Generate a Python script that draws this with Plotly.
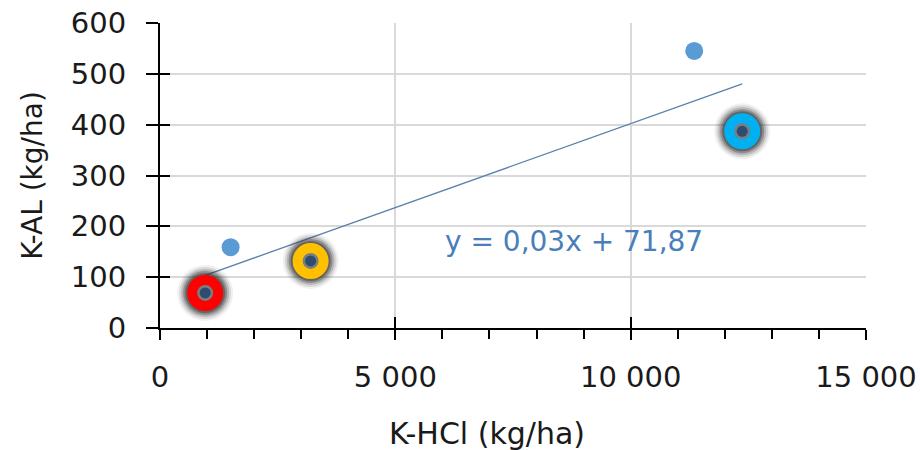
import plotly.graph_objects as go

# ---- data ----
k_hcl = [960, 1500, 3200, 11350, 12370]        # x, kg/ha
k_al = [69, 159, 132, 545, 387]                 # y, kg/ha
ring_colors = ["#ff0000", None, "#ffc000", None, "#00b0f0"]

trend_slope = 0.033
trend_intercept = 71.87
equation_label = "y = 0,03x + 71,87"

x_title = "K-HCl (kg/ha)"
y_title = "K-AL (kg/ha)"
x_tick_vals = [0, 5000, 10000, 15000]
x_tick_text = ["0", "5 000", "10 000", "15 000"]
y_tick_vals = [0, 100, 200, 300, 400, 500, 600]
y_tick_text = ["0", "100", "200", "300", "400", "500", "600"]

FONT = "DejaVu Sans"
FS = 29
fig = go.Figure()

# trendline
tx = [min(k_hcl), max(k_hcl)]
ty = [trend_slope * v + trend_intercept for v in tx]
fig.add_trace(go.Scatter(x=tx, y=ty, mode="lines",
                         line=dict(color="#5a80aa", width=1.3),
                         hoverinfo="skip", showlegend=False))

# plain points
px = [x for x, c in zip(k_hcl, ring_colors) if c is None]
py = [y for y, c in zip(k_al, ring_colors) if c is None]
fig.add_trace(go.Scatter(x=px, y=py, mode="markers",
                         marker=dict(size=18, color="#5b9bd5"),
                         showlegend=False))

# highlighted points (shadow, dark centre, coloured ring)
hx = [x for x, c in zip(k_hcl, ring_colors) if c is not None]
hy = [y for y, c in zip(k_al, ring_colors) if c is not None]
hc = [c for c in ring_colors if c is not None]
for s, op in [(56, 0.07), (52, 0.12), (48, 0.2), (44, 0.32), (40, 0.45)]:
    fig.add_trace(go.Scatter(x=hx, y=hy, mode="markers",
                             marker=dict(size=s, color="#333333", opacity=op),
                             hoverinfo="skip", showlegend=False))
fig.add_trace(go.Scatter(x=hx, y=hy, mode="markers",
                         marker=dict(size=18, color="#7a7e84"),
                         hoverinfo="skip", showlegend=False))
fig.add_trace(go.Scatter(x=hx, y=hy, mode="markers",
                         marker=dict(size=11, color="#2e4c6d"),
                         showlegend=False))
fig.add_trace(go.Scatter(x=hx, y=hy, mode="markers",
                         marker=dict(size=26, symbol="circle-open",
                                     color=hc, line=dict(width=10, color=hc)),
                         hoverinfo="skip", showlegend=False))

# invisible trace for the overlay axes (inside tick halves)
fig.add_trace(go.Scatter(x=[None], y=[None], xaxis="x2", yaxis="y2",
                         showlegend=False, hoverinfo="skip"))

fig.add_annotation(x=8800, y=171, xref="x", yref="y", text=equation_label,
                   showarrow=False, font=dict(family=FONT, size=FS - 1, color="#4a7ebb"))
fig.add_annotation(x=0.463, y=-0.345, xref="paper", yref="paper", text=x_title,
                   showarrow=False, yanchor="middle",
                   font=dict(family=FONT, size=30, color="#1a1a1a"))

fig.update_layout(
    width=920, height=450,
    margin=dict(l=160, r=54, t=23, b=122, autoexpand=False),
    paper_bgcolor="white", plot_bgcolor="white",
    font=dict(family=FONT, size=FS, color="#1a1a1a"),
    xaxis=dict(range=[0, 15000], tickvals=x_tick_vals, ticktext=x_tick_text,
               automargin=False, ticklabeloverflow="allow",
               showline=True, linecolor="black", linewidth=2,
               ticks="outside", ticklen=10, tickwidth=2, tickcolor="black",
               ticklabelstandoff=12, tickfont=dict(size=FS),
               showgrid=True, gridcolor="#d9d9d9", gridwidth=1.5,
               zeroline=False,
               minor=dict(dtick=1000, ticks="outside", ticklen=9, tickwidth=2,
                          tickcolor="black", showgrid=False)),
    yaxis=dict(range=[0, 600], tickvals=y_tick_vals, ticktext=y_tick_text,
               automargin=False, ticklabeloverflow="allow",
               showline=True, linecolor="black", linewidth=2,
               ticks="outside", ticklen=12, tickwidth=2, tickcolor="black",
               ticklabelstandoff=14, tickfont=dict(size=FS),
               showgrid=True, gridcolor="#d9d9d9", gridwidth=1.5,
               zeroline=False,
               title=dict(text=y_title, standoff=20,
                          font=dict(family=FONT, size=28, color="#1a1a1a"))),
    xaxis2=dict(overlaying="x", matches="x", range=[0, 15000], anchor="y",
                automargin=False,
                side="bottom", tickvals=x_tick_vals, ticks="inside", ticklen=11,
                tickwidth=2, tickcolor="black", showticklabels=False,
                showgrid=False, showline=False, zeroline=False),
    yaxis2=dict(overlaying="y", matches="y", range=[0, 600], anchor="x",
                automargin=False,
                side="left", tickvals=y_tick_vals, ticks="inside", ticklen=10,
                tickwidth=2, tickcolor="black", showticklabels=False,
                showgrid=False, showline=False, zeroline=False),
    showlegend=False,
)

fig.write_html("out.html", config={"displayModeBar": False},
               post_script="document.body.style.margin='0px';")
